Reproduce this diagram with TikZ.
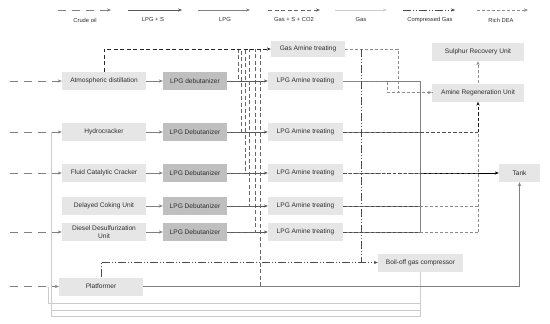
\documentclass[tikz,border=0pt]{standalone}
\usepackage{fontspec}
\setmainfont{Liberation Sans}
\usetikzlibrary{arrows.meta}
\definecolor{boxc}{HTML}{E6E6E6}
\definecolor{debc}{HTML}{BFBFBF}
\definecolor{txt}{HTML}{2E2E2E}
\begin{document}
\begin{tikzpicture}[x=1pt,y=-1pt,
  tip/.style={-{Stealth[length=4pt,width=3.2pt]}},
  box/.style={fill=boxc, text=txt, font=\fontsize{6.6}{7.4}\selectfont, minimum height=18pt, inner sep=1pt, align=center},
  unitbox/.style={box, minimum width=84pt},
  debbox/.style={box, fill=debc, minimum width=64pt},
  aminebox/.style={box, minimum width=75pt},
  lab/.style={text=txt, font=\fontsize{5.8}{6.5}\selectfont},
  crude/.style={draw=black!50, line width=0.6pt, dash pattern=on 8pt off 6pt},
  lpgs/.style={draw=black!65, line width=0.9pt},
  lpg/.style={draw=black!50, line width=0.6pt},
  lpgdark/.style={draw=black, line width=1pt},
  gass/.style={draw=black!60, line width=0.9pt, dash pattern=on 4pt off 2.5pt},
  gas/.style={draw=black!20, line width=0.7pt},
  cg/.style={draw=black!70, line width=0.9pt, dash pattern=on 8pt off 2pt on 1pt off 2pt on 1pt off 2pt},
  dea/.style={draw=black!45, line width=0.6pt, dash pattern=on 3pt off 2pt},
  deadark/.style={draw=black!70, line width=0.9pt, dash pattern=on 3.5pt off 2pt},
]
\useasboundingbox (0,0) rectangle (550,324);

% ---------- legend ----------
\coordinate (l1a) at (58,10);  \coordinate (l1b) at (111,10);
\coordinate (l2a) at (128,10); \coordinate (l2b) at (182,10);
\coordinate (l3a) at (198,10); \coordinate (l3b) at (250,10);
\coordinate (l4a) at (268,10); \coordinate (l4b) at (320,10);
\coordinate (l5a) at (335,10); \coordinate (l5b) at (387,10);
\coordinate (l6a) at (403,10); \coordinate (l6b) at (455,10);
\coordinate (l7a) at (477,10); \coordinate (l7b) at (528,10);
\draw[crude,tip] (l1a) -- (l1b);
\draw[lpgs,tip] (l2a) -- (l2b);
\draw[lpg,tip] (l3a) -- (l3b);
\draw[gass,tip] (l4a) -- (l4b);
\draw[gas,tip] (l5a) -- (l5b);
\draw[cg,tip] (l6a) -- (l6b);
\draw[dea,tip] (l7a) -- (l7b);
\node[lab] (t1) at (85,20) {Crude oil};
\node[lab] (t2) at (153,20) {LPG + S};
\node[lab] (t3) at (225,20) {LPG};
\node[lab] (t4) at (294,20) {Gas + S + CO2};
\node[lab] (t5) at (361,20) {Gas};
\node[lab] (t6) at (430,20) {Compressed Gas};
\node[lab] (t7) at (501,20) {Rich DEA};

% ---------- nodes ----------
\node[unitbox] (atm) at (104,81) {Atmospheric distillation};
\node[debbox] (d1) at (195,81) {LPG debutanizer};
\node[aminebox, minimum height=16pt, minimum width=74pt] (ga) at (308,49) {Gas Amine treating};
\node[aminebox] (a1) at (305.5,81) {LPG Amine treating};
\node[box, minimum width=92pt] (sru) at (478,52) {Sulphur Recovery Unit};
\node[box, minimum width=92pt] (aru) at (478,92.5) {Amine Regeneration Unit};

\node[unitbox] (hc) at (104,132) {Hydrocracker};
\node[debbox] (d2) at (195,132) {LPG Debutanizer};
\node[aminebox] (a2) at (305.5,132) {LPG Amine treating};

\node[unitbox] (fcc) at (104,173) {Fluid Catalytic Cracker};
\node[debbox] (d3) at (195,173) {LPG Debutanizer};
\node[aminebox] (a3) at (305.5,173) {LPG Amine treating};
\node[box, minimum width=41pt] (tank) at (519.5,173) {Tank};

\node[unitbox] (dcu) at (104,206) {Delayed Coking Unit};
\node[debbox] (d4) at (195,206) {LPG Debutanizer};
\node[aminebox] (a4) at (305.5,206) {LPG Amine treating};

\node[unitbox] (dds) at (104,232) {Diesel Desulfurization\\Unit};
\node[debbox] (d5) at (195,232) {LPG Debutanizer};
\node[aminebox] (a5) at (305.5,232) {LPG Amine treating};

\node[box, minimum width=85pt] (boc) at (420.5,262.5) {Boil-off gas compressor};
\node[unitbox] (plat) at (101,286.5) {Platformer};

% ---------- crude inputs ----------
\coordinate (i1) at (10,81);
\coordinate (i2) at (10,132);
\coordinate (i3) at (10,173);
\coordinate (i5) at (10,232);
\coordinate (i6) at (10,286.5);
\draw[crude,tip] (i1) -- (atm.west);
\draw[crude,tip] (i2) -- (hc.west);
\draw[crude,tip] (i3) -- (fcc.west);
\draw[crude,tip] (i5) -- (dds.west);
\draw[crude,tip] (i6) -- (plat.west);

% ---------- gas from compressor (Gas) ----------
\coordinate (g1a) at (48,303); \coordinate (g1b) at (48,286.5);
\coordinate (g2a) at (51,310);
\coordinate (g3a) at (51,316); \coordinate (g3b) at (51,132);
\draw[gas] (boc.south) |- (g1a) -- (g1b);
\draw[gas] (boc.south) |- (g2a);
\draw[gas] (boc.south) |- (g3a) -- (g3b);

% ---------- unit -> debutanizer (LPG) ----------
\draw[lpg,tip] (atm) -- (d1);
\draw[lpg,tip] (hc) -- (d2);
\draw[lpg,tip] (fcc) -- (d3);
\draw[lpg,tip] (dcu) -- (d4);
\draw[lpg,tip] (dds) -- (d5);

% ---------- debutanizer -> amine (LPG + S) ----------
\draw[lpgs,tip] (d1) -- (a1);
\draw[lpgs,tip] (d2) -- (a2);
\draw[lpgs,tip] (d3) -- (a3);
\draw[lpgs,tip] (d4) -- (a4);
\draw[lpgs,tip] (d5) -- (a5);

% ---------- Gas + S + CO2 to gas amine treating ----------
\coordinate (j1) at (238,49);
\coordinate (j2) at (241,49);
\coordinate (j3) at (245,49);
\coordinate (j4) at (249,49);
\coordinate (j5) at (255,49);
\coordinate (j6) at (260,49);
\draw[gass] (d1.east) -| (j1);
\draw[gass] (d2.east) -| (j2);
\draw[gass] (d3.east) -| (j3);
\draw[gass] (d4.east) -| (j4);
\draw[gass] (d5.east) -| (j5);
\draw[gass] (plat.east) -| (j6);
\draw[gass, draw=black!85, tip] (atm.north) |- (ga.west);

% ---------- LPG to tank ----------
\coordinate (lb1) at (420,81);
\coordinate (lb5) at (420,232);
\draw[lpg] (a1.east) -- (lb1) -- (lb5);
\draw[lpg] (a2.east) -- (a2.east -| lb1);
\draw[lpg] (a4.east) -- (a4.east -| lb1);
\draw[lpg] (a5.east) -- (lb5);
\draw[dea] (a3.east) -- (a3.east -| lb1);
\draw[lpgdark,tip] (a3.east -| lb1) -- (tank.west);
\draw[lpg,tip] (plat.east) -| (tank.south);

% ---------- Rich DEA ----------
\coordinate (r1) at (387,81);
\coordinate (r0) at (398,49);
\draw[dea,tip] (a1.east) -- (r1) |- (aru.west);
\draw[dea] (ga.east) -- (r0) |- (aru.west);
\draw[deadark] (a2.east) -- (a2.east -| aru.south);
\draw[deadark, draw=black!90, tip] (a2.east -| aru.south) -- (aru.south);
\draw[deadark] (a3.east) -- (a3.east -| aru.south);
\draw[deadark] (a4.east) -- (a4.east -| lb1);
\draw[deadark] (a5.east) -- (a5.east -| lb1);
\draw[dea] (a4.east -| lb1) -- (a4.east -| aru.south);
\draw[dea] (a5.east -| lb1) -- (a5.east -| aru.south);
\draw[dea] (a5.east -| aru.south) -- (a2.east -| aru.south);
\draw[dea,tip] (aru.north) -- (sru.south);

% ---------- Compressed gas ----------
\coordinate (c0) at (361,49);
\draw[cg] (c0) -- (c0 |- boc.west);
\draw[cg,tip] (plat.north) |- (boc.west);
\end{tikzpicture}
\end{document}
